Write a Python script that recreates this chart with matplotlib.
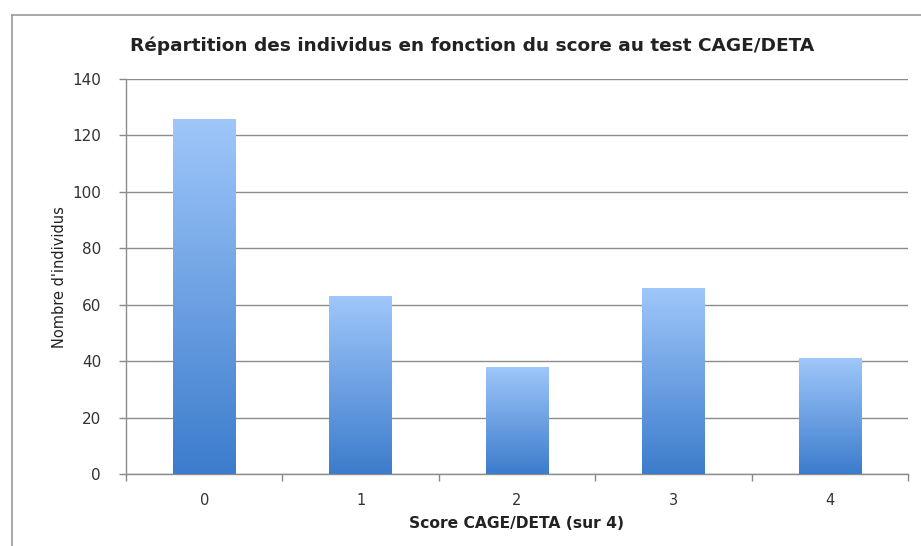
import matplotlib
matplotlib.use("Agg")
import matplotlib.pyplot as plt
import numpy as np
from matplotlib.colors import LinearSegmentedColormap
from matplotlib.lines import Line2D

categories = ["0", "1", "2", "3", "4"]
values = [126, 63, 38, 66, 41]
y_ticks = [0, 20, 40, 60, 80, 100, 120, 140]

title = "Répartition des individus en fonction du score au test CAGE/DETA"
xlabel = "Score CAGE/DETA (sur 4)"
ylabel = "Nombre d'individus"

fig = plt.figure(figsize=(9.21, 5.46), dpi=100)
ax = fig.add_axes([126/921, 72/546, (908-126)/921, (474-79)/546])

x = np.arange(len(categories))
bars = ax.bar(x, values, width=0.4, color="none", zorder=3)

cmap = LinearSegmentedColormap.from_list("g", ["#3c7ccc", "#9fc7fa"])
grad = np.linspace(0, 1, 256).reshape(-1, 1)
for b in bars:
    x0, y0 = b.get_x(), b.get_y()
    w, h = b.get_width(), b.get_height()
    im = ax.imshow(grad, cmap=cmap, origin="lower", aspect="auto",
                   extent=[x0, x0 + w, y0, y0 + h], zorder=3)
    im.set_clip_path(b)

ax.set_xlim(-0.5, len(categories) - 0.5)
ax.set_ylim(0, 140)
ax.set_yticks(y_ticks)
ax.set_yticklabels([str(t) for t in y_ticks])
ax.set_xticks(x)
ax.set_xticklabels(categories)
ax.set_xticks(np.arange(-0.5, len(categories), 1.0), minor=True)
ax.tick_params(axis="x", which="major", length=0, pad=14, labelsize=10.5, labelcolor="#333333")
ax.tick_params(axis="x", which="minor", length=5, width=1, color="#888888", direction="out")
ax.tick_params(axis="y", length=5, width=1, color="#888888", direction="out", pad=13,
               labelsize=11, labelcolor="#333333")
for lab in ax.get_xticklabels() + ax.get_yticklabels():
    lab.set_family("DejaVu Sans")

ax.grid(axis="y", color="#8c8c8c", linewidth=1, zorder=1)
ax.set_axisbelow(True)
for s in ["top", "right"]:
    ax.spines[s].set_visible(False)
for s in ["left", "bottom"]:
    ax.spines[s].set_color("#8c8c8c")
    ax.spines[s].set_linewidth(1)

fig.text(472/921, 1 - 46/546, title, ha="center", va="center", fontsize=13.3,
         fontweight="bold", family="DejaVu Sans", color="#222222")
fig.text(517/921, 1 - 523/546, xlabel, ha="center", va="center", fontsize=11.2,
         fontweight="bold", family="DejaVu Sans", color="#222222")
fig.text(60/921, 1 - 277/546, ylabel, ha="center", va="center", rotation=90,
         fontsize=10.5, family=["Liberation Sans Narrow", "DejaVu Sans"], color="#222222")

fig.add_artist(Line2D([12/921, 12/921], [0, 1 - 15/546], transform=fig.transFigure,
                      color="#999999", linewidth=1.2))
fig.add_artist(Line2D([12/921, 1], [1 - 15/546, 1 - 15/546], transform=fig.transFigure,
                      color="#999999", linewidth=1.2))

fig.savefig("out.png", dpi=100)
